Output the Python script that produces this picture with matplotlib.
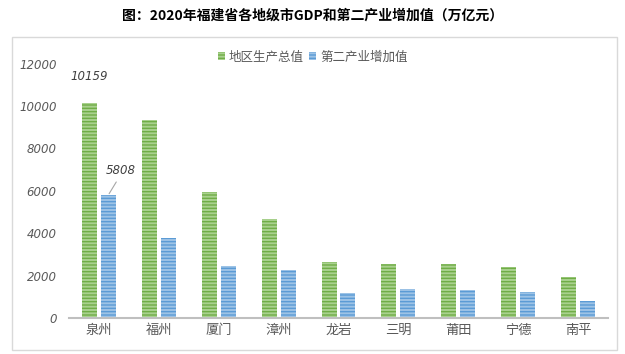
import numpy as np
import matplotlib
matplotlib.use("Agg")
import matplotlib.pyplot as plt
from matplotlib.patches import Rectangle

plt.rcParams['font.family'] = ['Noto Sans CJK SC', 'DejaVu Sans']
plt.rcParams['hatch.linewidth'] = 1.0

cities = ["泉州", "福州", "厦门", "漳州", "龙岩", "三明", "莆田", "宁德", "南平"]
gdp = [10159, 9340, 5940, 4670, 2660, 2560, 2560, 2410, 1930]
secondary = [5808, 3780, 2450, 2280, 1180, 1380, 1340, 1240, 820]
series_names = ["地区生产总值", "第二产业增加值"]
title = "图：2020年福建省各地级市GDP和第二产业增加值（万亿元）"

green_face, green_edge = "#A9D18E", "#70AD47"
blue_face, blue_edge = "#9DC3E6", "#5B9BD5"

W, H = 625, 354
fig = plt.figure(figsize=(W / 100, H / 100), dpi=100)

# outer chart frame
fig.patches.append(Rectangle((12 / W, 1 - 350 / H), (617 - 12) / W, (350 - 37) / H,
                             transform=fig.transFigure, fill=False,
                             edgecolor="#D9D9D9", linewidth=1.0))

ax = fig.add_axes([69 / W, 1 - 318 / H, (608 - 69) / W, (318 - 63.6) / H])
x = np.arange(len(cities))
bw = 0.25
off = 0.158
ax.bar(x - off, gdp, bw, color=green_face, edgecolor=green_edge, hatch="-----",
       linewidth=0, label=series_names[0])
ax.bar(x + off, secondary, bw, color=blue_face, edgecolor=blue_edge, hatch="-----",
       linewidth=0, label=series_names[1])

ax.set_xlim(-0.5, len(cities) - 0.5)
ax.set_ylim(0, 12000)
ax.set_yticks(np.arange(0, 12001, 2000))
for s in ["top", "right", "left"]:
    ax.spines[s].set_visible(False)
ax.spines["bottom"].set_color("#BFBFBF")
ax.spines["bottom"].set_linewidth(1.5)
ax.tick_params(axis="both", length=0)
ax.set_yticklabels([str(v) for v in range(0, 12001, 2000)],
                   fontfamily="DejaVu Sans", fontstyle="italic",
                   fontsize=8.5, color="#595959")
ax.tick_params(axis="y", pad=9)
ax.set_xticks(x)
ax.set_xticklabels(cities, fontsize=9.5, color="#595959")
ax.tick_params(axis="x", pad=4)

# data labels
ax.annotate(str(gdp[0]), xy=(x[0] - off, gdp[0]), xytext=(0, 14),
            textcoords="offset points", ha="center", va="bottom",
            fontfamily="DejaVu Sans", fontstyle="italic", fontsize=8.5, color="#404040")
ax.annotate(str(secondary[0]), xy=(x[0] + off, secondary[0]), xytext=(9, 13),
            textcoords="offset points", ha="center", va="bottom",
            fontfamily="DejaVu Sans", fontstyle="italic", fontsize=8.5, color="#404040",
            arrowprops=dict(arrowstyle="-", color="#A6A6A6", lw=0.8, shrinkA=2, shrinkB=1,
                            relpos=(0.45, 0.0)))

leg = fig.legend(loc="center", bbox_to_anchor=(0.5, 1 - 57 / H), ncol=2, frameon=False,
                 fontsize=9, handlelength=0.6, handleheight=0.6, handletextpad=0.3,
                 columnspacing=0.4, labelcolor="#595959")

fig.text(0.5, 1 - 16 / H, title, ha="center", va="center", fontsize=10,
         fontweight="bold", color="black")

fig.savefig("out.png", dpi=100)
